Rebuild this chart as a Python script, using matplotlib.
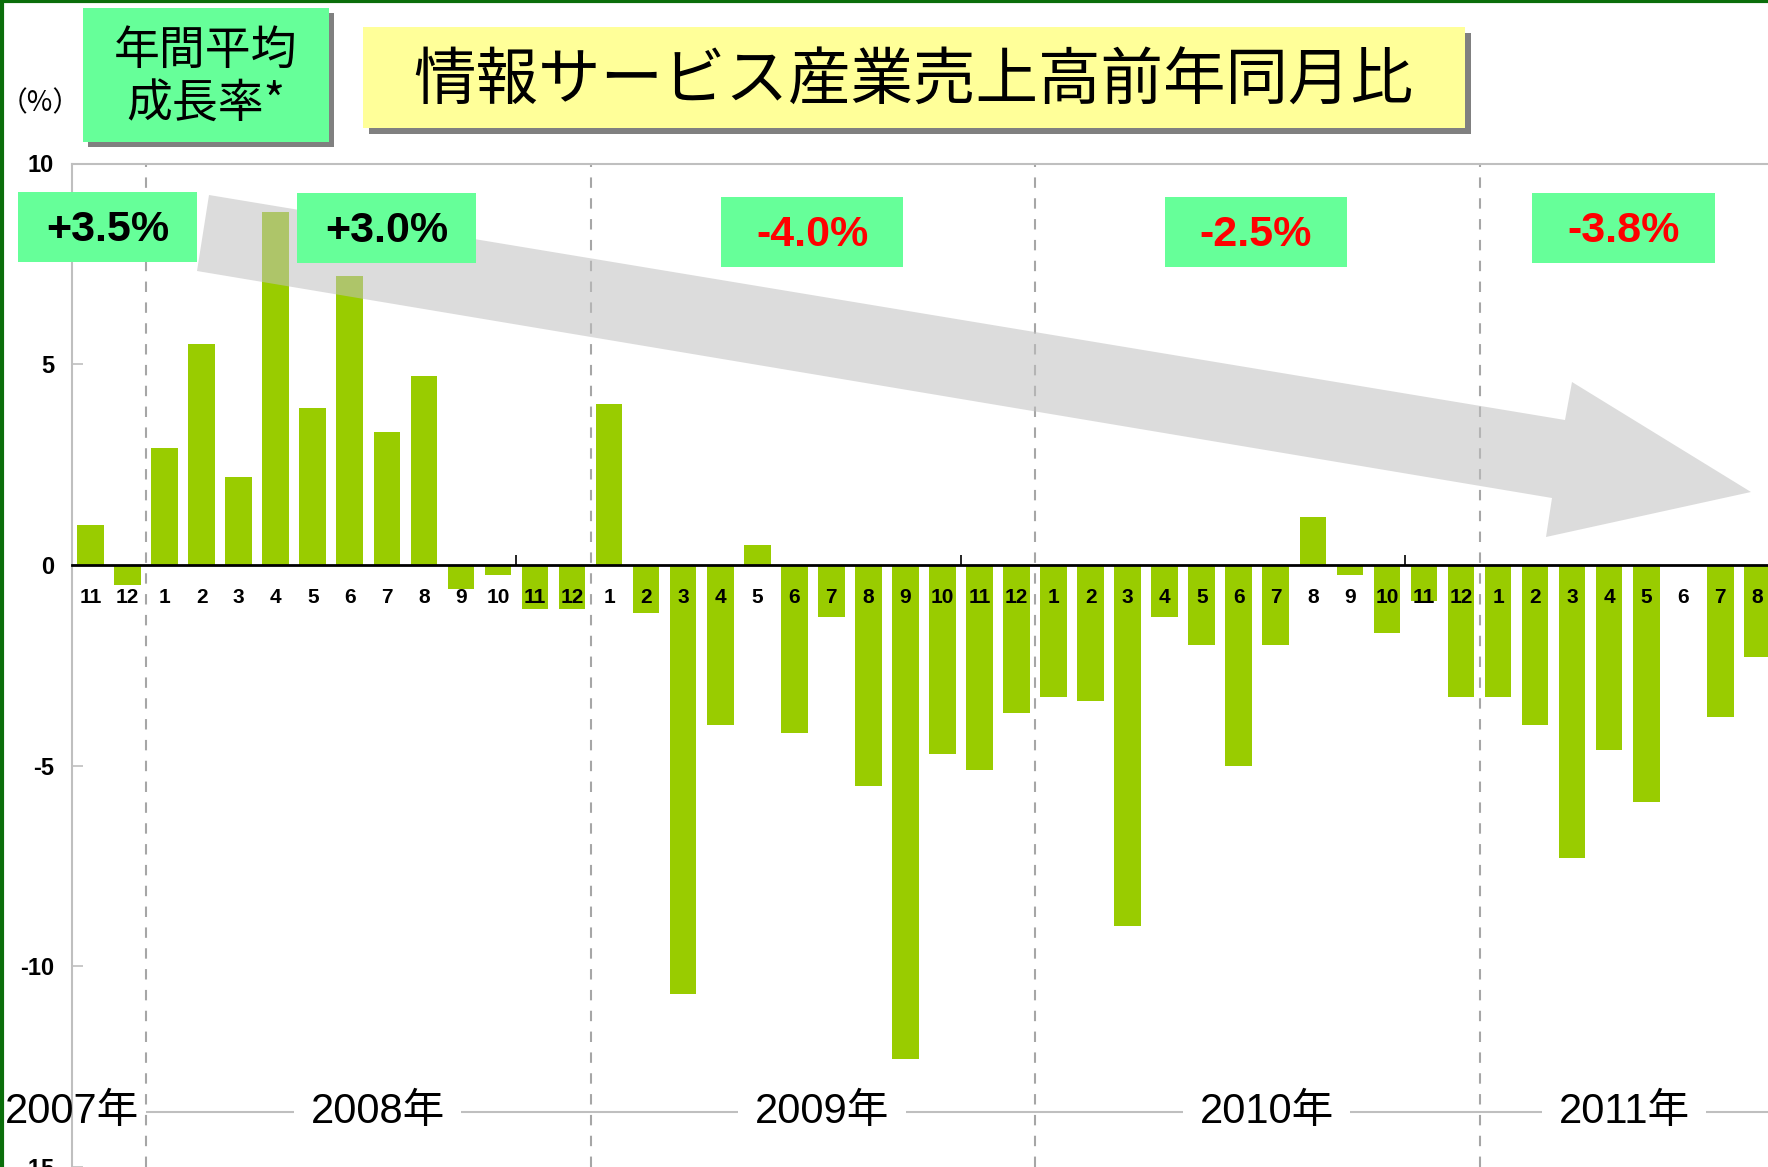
import matplotlib.pyplot as plt
from matplotlib.patches import Rectangle, Polygon
from matplotlib.lines import Line2D

# monthly YoY change of information-service industry sales (%), 2007-11 .. 2011-08
months = ['11', '12',
          '1', '2', '3', '4', '5', '6', '7', '8', '9', '10', '11', '12',
          '1', '2', '3', '4', '5', '6', '7', '8', '9', '10', '11', '12',
          '1', '2', '3', '4', '5', '6', '7', '8', '9', '10', '11', '12',
          '1', '2', '3', '4', '5', '6', '7', '8']
yoy = [1.0, -0.5,
       2.9, 5.5, 2.2, 8.8, 3.9, 7.2, 3.3, 4.7, -0.6, -0.25, -1.1, -1.1,
       4.0, -1.2, -10.7, -4.0, 0.5, -4.2, -1.3, -5.5, -12.3, -4.7, -5.1, -3.7,
       -3.3, -3.4, -9.0, -1.3, -2.0, -5.0, -2.0, 1.2, -0.25, -1.7, -0.9, -3.3,
       -3.3, -4.0, -7.3, -4.6, -5.9, 0.0, -3.8, -2.3]
years = ['2007年', '2008年', '2009年', '2010年', '2011年']
annual_avg = ['+3.5%', '+3.0%', '-4.0%', '-2.5%', '-3.8%']
yticks = [-15, -10, -5, 0, 5, 10]

JP = ['Noto Sans CJK JP', 'DejaVu Sans']
LAT = ['Liberation Sans', 'Noto Sans CJK JP']

W, H = 1768, 1167
fig = plt.figure(figsize=(W / 100, H / 100), dpi=100)


def fx(px):
    return px / W


def fy(py):
    return 1 - py / H


# plot area: y=10 at 163px, y=-15 at bottom edge; x runs off the right edge
ax = fig.add_axes([fx(72), 0, 47.5 * 37.04 / W, (H - 163.5) / H])
x = list(range(len(yoy)))
ax.bar(x, yoy, width=0.72, color='#99CC00', zorder=2)
ax.set_xlim(-0.5, 47)
ax.set_ylim(-15, 10)

for s in ['left', 'top']:
    ax.spines[s].set_color('#BFBFBF')
    ax.spines[s].set_linewidth(1.5)
ax.spines['right'].set_visible(False)
ax.spines['bottom'].set_position(('data', 0))
ax.spines['bottom'].set_color('black')
ax.spines['bottom'].set_linewidth(2)
ax.spines['bottom'].set_zorder(3)

ax.set_xticks([-0.5, 11.5, 23.5, 35.5])
ax.tick_params(axis='x', direction='in', length=7, width=1.2, color='black',
               labelbottom=False)
ax.set_yticks(yticks)
ax.set_yticklabels([str(v) for v in yticks], fontsize=17, fontweight='bold',
                   family=LAT)
ax.tick_params(axis='y', direction='in', length=8, width=1.2,
               color='#BFBFBF', pad=13)

# year boundaries
starts = [0] + [i for i, m in enumerate(months) if m == '1']
for b in starts[1:]:
    ax.axvline(b - 0.5, color='#A6A6A6', ls=(0, (5, 5)), lw=1.5, zorder=1)

# month labels sit on the zero line, over the bars
for i, m in enumerate(months):
    ax.text(i, -0.82, m, ha='center', va='center', fontsize=15,
            fontweight='bold', family=LAT, zorder=4)

# year labels with a thin gray rule between them
ax.hlines(-13.62, starts[1] - 0.5, 47, color='#BFBFBF', lw=1.5, zorder=1)
ends = starts[1:] + [len(months)]
for k, (yr, a, b) in enumerate(zip(years, starts, ends)):
    cx = (a + b - 1) / 2 + (0.25 if b - a == 12 else -0.1)
    if k == 0:
        ax.text(-0.5, -13.62, yr, ha='center', va='center', fontsize=30,
                family=LAT, zorder=4)
    else:
        ax.text(cx, -13.62, yr, ha='center', va='center', fontsize=30,
                family=LAT, zorder=4,
                bbox=dict(boxstyle='square,pad=0.4', fc='white', ec='none'))

# big translucent trend arrow
arrow_px = [(209, 195), (1565, 420), (1572, 382), (1751, 492),
            (1546, 537), (1552, 498), (197, 271)]
fig.add_artist(Polygon([(fx(a), fy(b)) for a, b in arrow_px], closed=True,
                       transform=fig.transFigure, fc='#C0C0C0', ec='none',
                       alpha=0.55, zorder=5))

# annual average growth boxes
boxes_px = [(18, 192, 179, 70), (297, 193, 179, 70), (721, 197, 182, 70),
            (1165, 197, 182, 70), (1532, 193, 183, 70)]
for (bx, by, bw, bh), lab in zip(boxes_px, annual_avg):
    fig.add_artist(Rectangle((fx(bx), fy(by + bh)), bw / W, bh / H,
                             transform=fig.transFigure, fc='#66FF99',
                             ec='none', zorder=6))
    col = 'black' if lab.startswith('+') else '#FF0000'
    fig.text(fx(bx + bw / 2), fy(by + bh / 2 + 3), lab, ha='center',
             va='center', fontsize=31, fontweight='bold', color=col,
             family=LAT, zorder=7)

# label box (top left) and title box, both with a drop shadow
for (bx, by, bw, bh), fc, off in [((83, 8, 246, 134), '#66FF99', 5),
                                  ((363, 27, 1102, 101), '#FFFF99', 6)]:
    fig.add_artist(Rectangle((fx(bx + off), fy(by + bh + off)), bw / W, bh / H,
                             transform=fig.transFigure, fc='#808080',
                             ec='none', zorder=6))
    fig.add_artist(Rectangle((fx(bx), fy(by + bh)), bw / W, bh / H,
                             transform=fig.transFigure, fc=fc, ec='none',
                             zorder=6.5))

fig.text(fx(206), fy(51), '年間平均', ha='center', va='center', fontsize=33,
         family=JP, zorder=7)
fig.text(fx(206), fy(104), '成長率*', ha='center', va='center', fontsize=33,
         family=JP, zorder=7)
fig.text(fx(913), fy(82), '情報サービス産業売上高前年同月比', ha='center',
         va='center', fontsize=45, family=JP, zorder=7)
fig.text(fx(40), fy(103), '（%）', ha='center', va='center', fontsize=20,
         family=JP)

# dark green frame on the left and top edges
fig.add_artist(Line2D([0.001, 0.001], [0, 1], transform=fig.transFigure,
                      color='#0B6E0B', lw=3))
fig.add_artist(Line2D([0, 1], [0.999, 0.999], transform=fig.transFigure,
                      color='#0B6E0B', lw=3))

fig.savefig('out.png', dpi=100)
